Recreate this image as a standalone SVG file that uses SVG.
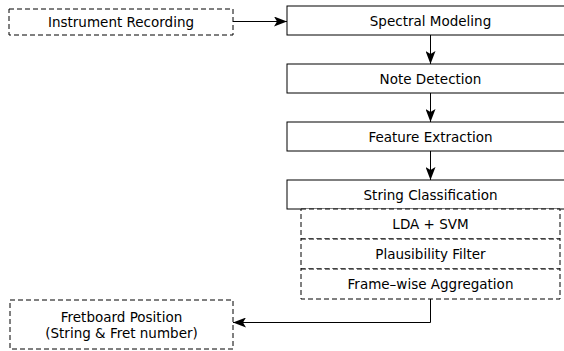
<svg xmlns="http://www.w3.org/2000/svg" width="564" height="351" viewBox="0 0 564 351">
<style>
.box{fill:#fff;stroke:#000;stroke-width:1}
.dash{fill:#fff;stroke:#000;stroke-width:1;stroke-dasharray:5 3}
.lbl{font-family:"DejaVu Sans","Liberation Sans",sans-serif;font-size:13.5px;fill:#000;text-anchor:middle}
.edge{fill:none;stroke:#000;stroke-width:1}
</style>
<defs>
<marker id="ah" viewBox="0 0 13 10" refX="13" refY="5" markerWidth="13" markerHeight="10" markerUnits="userSpaceOnUse" orient="auto">
<path d="M0,0 L13,5 L0,10 L3,5 Z" fill="#000"/>
</marker>
</defs>
<rect width="564" height="351" fill="#fff"/>
<g id="connectors">
<path class="edge" d="M233,21.5 H287" marker-end="url(#ah)"/>
<path class="edge" d="M430.5,35 V64" marker-end="url(#ah)"/>
<path class="edge" d="M430.5,93 V122" marker-end="url(#ah)"/>
<path class="edge" d="M430.5,151 V180" marker-end="url(#ah)"/>
<path class="edge" d="M430.5,299 V322.5 H233" marker-end="url(#ah)"/>
</g>
<g id="instrument-recording">
<rect class="dash" x="9" y="9" width="224" height="26"/>
<text class="lbl" x="121" y="27">Instrument Recording</text>
</g>
<g id="spectral-modeling">
<rect class="box" x="287" y="6" width="287" height="29"/>
<text class="lbl" x="430.5" y="25.5">Spectral Modeling</text>
</g>
<g id="note-detection">
<rect class="box" x="287" y="64" width="287" height="29"/>
<text class="lbl" x="430.5" y="83.5">Note Detection</text>
</g>
<g id="feature-extraction">
<rect class="box" x="287" y="122" width="287" height="29"/>
<text class="lbl" x="430.5" y="141.5">Feature Extraction</text>
</g>
<g id="string-classification">
<rect class="box" x="287" y="180" width="287" height="29"/>
<text class="lbl" x="430.5" y="199.5">String Classification</text>
</g>
<g id="lda-svm">
<rect class="dash" x="301" y="209" width="259" height="30"/>
<text class="lbl" x="430.5" y="229">LDA + SVM</text>
</g>
<g id="plausibility-filter">
<rect class="dash" x="301" y="239" width="259" height="30"/>
<text class="lbl" x="430.5" y="259">Plausibility Filter</text>
</g>
<g id="frame-wise-aggregation">
<rect class="dash" x="301" y="269" width="259" height="30"/>
<text class="lbl" x="430.5" y="289">Frame–wise Aggregation</text>
</g>
<g id="fretboard-position">
<rect class="dash" x="10" y="300" width="223" height="49"/>
<text class="lbl" x="121.5" y="321.5">Fretboard Position</text>
<text class="lbl" x="121.5" y="337.5">(String &amp; Fret number)</text>
</g>
</svg>
